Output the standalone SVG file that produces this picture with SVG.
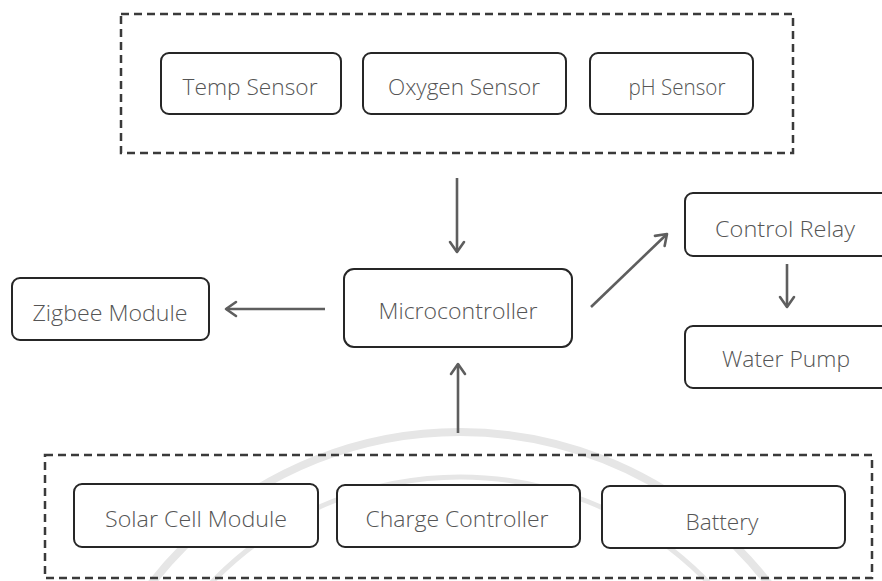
<svg xmlns="http://www.w3.org/2000/svg" width="882" height="581" viewBox="0 0 882 581">
  <defs>
    <style>
      .node rect { fill: #ffffff; stroke: #262626; stroke-width: 2; }
      .node text { font-family: "Open Sans", "Liberation Sans", sans-serif; font-size: 22px; fill: #555555; text-anchor: middle; font-weight: 300; }
      .group { fill: none; stroke: #3a3a3a; stroke-width: 2.5; stroke-dasharray: 8 5; }
      .conn { fill: none; stroke: #5e5e5e; stroke-width: 2.6; marker-end: url(#arrow); }
      .wm { fill: none; stroke: #e6e6e6; }
    </style>
    <marker id="arrow" markerUnits="userSpaceOnUse" markerWidth="16" markerHeight="18" viewBox="0 0 16 18" refX="13" refY="9" orient="auto">
      <path d="M3,2 L13,9 L3,16" fill="none" stroke="#5e5e5e" stroke-width="2.6" stroke-linecap="round" stroke-linejoin="round"/>
    </marker>
  </defs>
  <rect x="0" y="0" width="882" height="581" fill="#ffffff"/>

  <g id="watermark">
    <circle class="wm" cx="460" cy="822" r="390" stroke-width="8"/>
    <circle class="wm" cx="460" cy="822" r="345" stroke-width="5"/>
  </g>

  <g id="sensor-group">
    <rect class="group" x="121" y="14" width="672" height="139"/>
  </g>
  <g id="power-group">
    <rect class="group" x="45" y="455" width="827" height="123"/>
  </g>

  <g id="temp-sensor" class="node">
    <rect x="161" y="53" width="180" height="61" rx="8"/>
    <text x="250" y="95" textLength="135" lengthAdjust="spacingAndGlyphs">Temp Sensor</text>
  </g>
  <g id="oxygen-sensor" class="node">
    <rect x="363" y="53" width="203" height="61" rx="8"/>
    <text x="464" y="95" textLength="152" lengthAdjust="spacingAndGlyphs">Oxygen Sensor</text>
  </g>
  <g id="ph-sensor" class="node">
    <rect x="590" y="53" width="163" height="61" rx="8"/>
    <text x="677" y="95" textLength="97" lengthAdjust="spacingAndGlyphs">pH Sensor</text>
  </g>

  <g id="microcontroller" class="node">
    <rect x="344" y="269" width="228" height="78" rx="10"/>
    <text x="458" y="319" textLength="159" lengthAdjust="spacingAndGlyphs">Microcontroller</text>
  </g>
  <g id="zigbee-module" class="node">
    <rect x="12" y="278" width="197" height="62" rx="8"/>
    <text x="110" y="321" textLength="155" lengthAdjust="spacingAndGlyphs">Zigbee Module</text>
  </g>
  <g id="control-relay" class="node">
    <rect x="685" y="193" width="210" height="63" rx="8"/>
    <text x="785" y="237" textLength="140" lengthAdjust="spacingAndGlyphs">Control Relay</text>
  </g>
  <g id="water-pump" class="node">
    <rect x="685" y="326" width="210" height="62" rx="8"/>
    <text x="786" y="367" textLength="128" lengthAdjust="spacingAndGlyphs">Water Pump</text>
  </g>

  <g id="solar-cell-module" class="node">
    <rect x="74" y="484" width="244" height="63" rx="8"/>
    <text x="196" y="527" textLength="182" lengthAdjust="spacingAndGlyphs">Solar Cell Module</text>
  </g>
  <g id="charge-controller" class="node">
    <rect x="337" y="485" width="243" height="62" rx="8"/>
    <text x="457" y="527" textLength="183" lengthAdjust="spacingAndGlyphs">Charge Controller</text>
  </g>
  <g id="battery" class="node">
    <rect x="602" y="486" width="243" height="62" rx="8"/>
    <text x="722" y="530" textLength="73" lengthAdjust="spacingAndGlyphs">Battery</text>
  </g>

  <g id="connectors">
    <line class="conn" x1="457" y1="178" x2="457" y2="252"/>
    <line class="conn" x1="325" y1="309" x2="226" y2="309"/>
    <line class="conn" x1="458" y1="433" x2="458" y2="364"/>
    <line class="conn" x1="591" y1="307" x2="667" y2="234"/>
    <line class="conn" x1="787" y1="264" x2="787" y2="307"/>
  </g>
</svg>
